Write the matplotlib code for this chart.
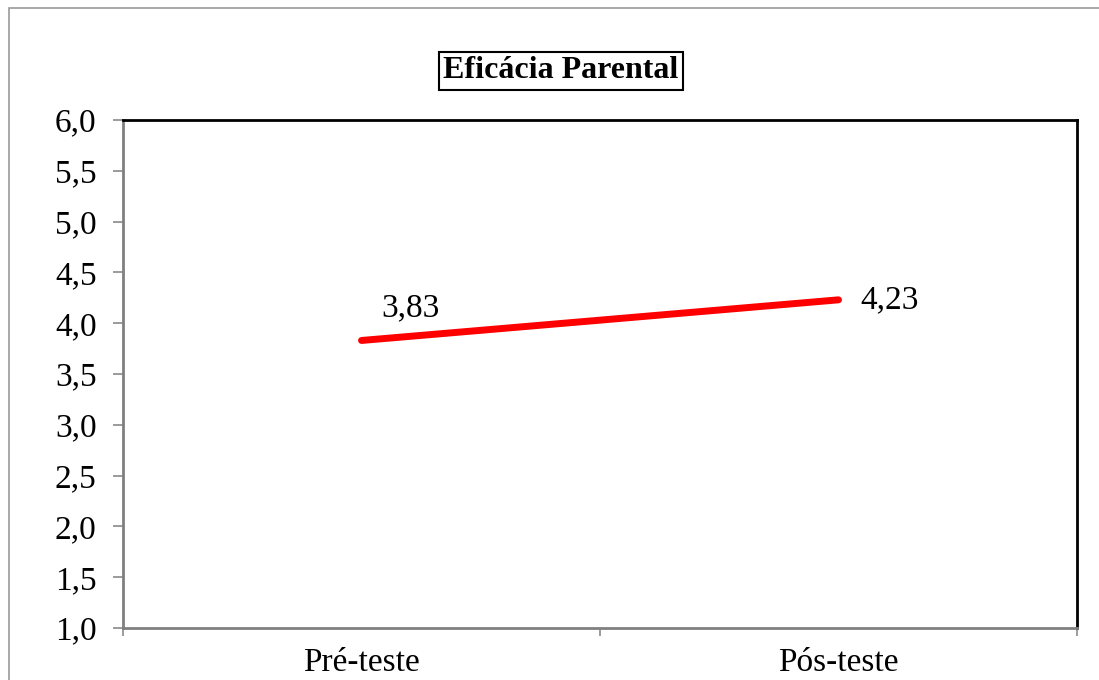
import matplotlib.pyplot as plt
import matplotlib.patches as patches
import numpy as np

categories = ['Pré-teste', 'Pós-teste']
values = [3.83, 4.23]
value_labels = ['3,83', '4,23']
yticks = [1.0, 1.5, 2.0, 2.5, 3.0, 3.5, 4.0, 4.5, 5.0, 5.5, 6.0]

plt.rcParams['font.family'] = ['Liberation Serif', 'DejaVu Serif']

fig = plt.figure(figsize=(10.99, 6.8), dpi=100)
ax = fig.add_axes([123/1099, 1-628/680, (1077-123)/1099, (628-120)/680])

# outer chart border
fig.patches.append(patches.Rectangle((9/1099, -0.1), 1.2, 1-8/680+0.1, transform=fig.transFigure,
                                     fill=False, edgecolor='#9a9a9a', linewidth=1.2, clip_on=False))

x = np.arange(len(categories))
ax.plot(x, values, color='red', linewidth=5, solid_capstyle='round')
ax.annotate(value_labels[0], (x[0], values[0]), xytext=(14, 23), textcoords='offset points',
            fontsize=24, ha='left', va='center')
ax.annotate(value_labels[1], (x[1], values[1]), xytext=(16, 0), textcoords='offset points',
            fontsize=24, ha='left', va='center')

ax.set_xlim(-0.5, 1.5)
ax.set_ylim(1, 6)
ax.set_yticks(yticks)
ax.set_yticklabels([f'{v:.1f}'.replace('.', ',') for v in yticks], fontsize=24)
ax.set_xticks([-0.5, 0.5, 1.5])
ax.set_xticklabels([])
ax.set_xticks(x, minor=True)
ax.set_xticklabels(categories, minor=True, fontsize=24)
ax.tick_params(axis='x', which='minor', length=0, pad=14)
ax.tick_params(axis='x', which='major', length=6, color='#8a8a8a', width=1.2)
ax.tick_params(axis='y', length=7, color='#8a8a8a', width=1.2, pad=12)

for side in ['left', 'bottom']:
    ax.spines[side].set_color('#808080')
    ax.spines[side].set_linewidth(2)
for side in ['top', 'right']:
    ax.spines[side].set_color('black')
    ax.spines[side].set_linewidth(2)

fig.text(561/1099, 1-71/680, 'Eficácia Parental', fontsize=23, fontweight='bold',
         ha='center', va='center',
         bbox=dict(boxstyle='square,pad=0.15', facecolor='white', edgecolor='black', linewidth=1.5))

plt.savefig('out.png', dpi=100)
